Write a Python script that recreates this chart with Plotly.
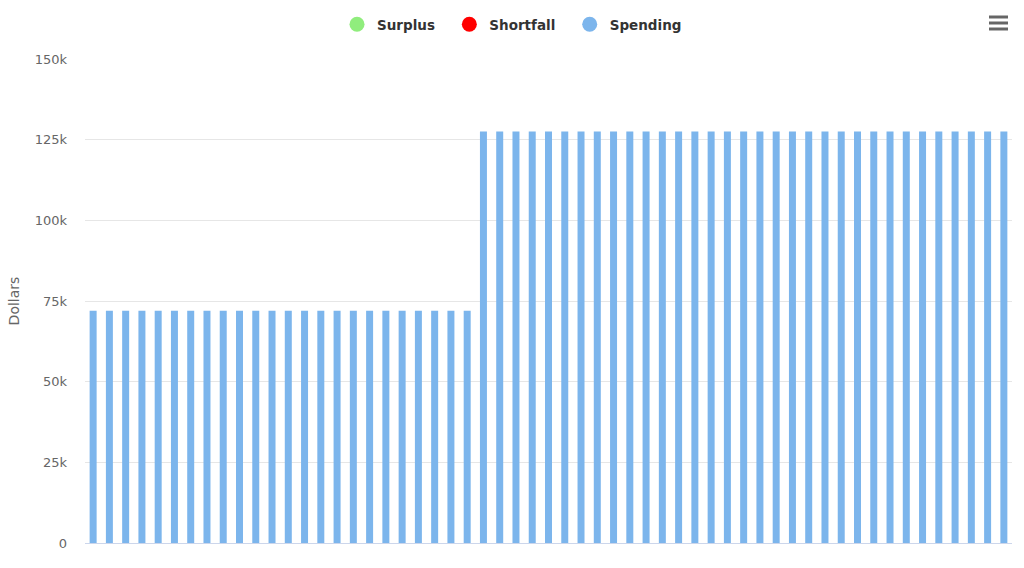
import plotly.graph_objects as go

years = list(range(1, 58))
spending = [72000] * 24 + [127500] * 33
ytick_vals = [0, 25000, 50000, 75000, 100000, 125000, 150000]
ytick_text = ["0", "25k", "50k", "75k", "100k", "125k", "150k"]
legend_names = ["Surplus", "Shortfall", "Spending"]
legend_colors = ["#90ed7d", "#ff0000", "#7cb5ec"]

fig = go.Figure()
fig.add_trace(go.Bar(x=years, y=spending, marker=dict(color="#7cb5ec", line=dict(width=0)),
                     showlegend=False, name="Spending"))
for i, (n, c) in enumerate(zip(legend_names, legend_colors)):
    label = n + ("\u00a0\u00a0" if i < len(legend_names) - 1 else "")
    fig.add_trace(go.Scatter(x=[None], y=[None], mode="markers", name=label,
                             marker=dict(symbol="circle", size=15, color=c)))

fig.update_layout(
    width=1024, height=568,
    margin=dict(l=85, r=12, t=59, b=25),
    paper_bgcolor="white", plot_bgcolor="white",
    bargap=0.57,
    font=dict(family="DejaVu Sans", color="#666666", size=13),
    legend=dict(orientation="h", x=0.5, xref="container", xanchor="center",
                y=1 - 9 / 568, yref="container", yanchor="top",
                font=dict(family="DejaVu Sans", size=13.5, color="#333333", weight="bold"),
                itemsizing="trace"),
    xaxis=dict(range=[0.5, 57.5], showticklabels=False, showgrid=False, zeroline=False,
               showline=True, linecolor="#ccd6eb", linewidth=1, ticks=""),
    yaxis=dict(range=[0, 150000], tickvals=ytick_vals, ticktext=ytick_text,
               showgrid=True, gridcolor="#e6e6e6", gridwidth=1, zeroline=False,
               tickfont=dict(size=13, color="#666666"), ticklabelstandoff=17,
               title=dict(text="Dollars", font=dict(size=14, color="#666666"), standoff=11)),
)
# context menu icon
for yy in [17, 23, 29]:
    fig.add_shape(type="line", xref="paper", yref="paper",
                  x0=(989 - 85) / 927, x1=(1008 - 85) / 927,
                  y0=(568 - 25 - yy) / 484, y1=(568 - 25 - yy) / 484,
                  line=dict(color="#666666", width=3))

fig.write_html("out.html")
